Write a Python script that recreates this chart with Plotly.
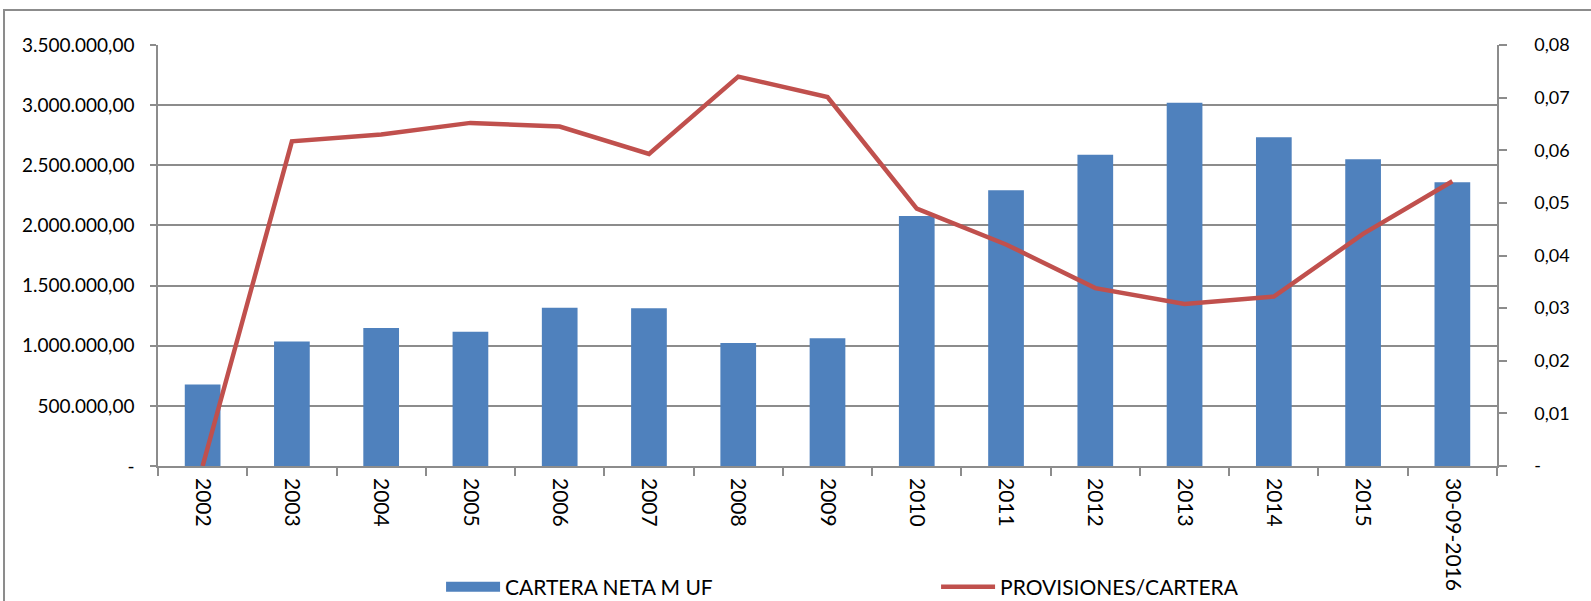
import plotly.graph_objects as go

categories = ["2002", "2003", "2004", "2005", "2006", "2007", "2008", "2009",
              "2010", "2011", "2012", "2013", "2014", "2015", "30-09-2016"]
cartera_neta = [677000, 1034000, 1147000, 1116000, 1316000, 1312000, 1023000, 1062000,
                2078000, 2293000, 2587000, 3020000, 2733000, 2550000, 2360000]
provisiones_cartera = [0.0, 0.0617, 0.0630, 0.0652, 0.0645, 0.0593, 0.0740, 0.0701,
                       0.0489, 0.0421, 0.0338, 0.0308, 0.0322, 0.0441, 0.0541]

left_tickvals = [0, 500000, 1000000, 1500000, 2000000, 2500000, 3000000, 3500000]
left_ticktext = ["-", "500.000,00", "1.000.000,00", "1.500.000,00", "2.000.000,00",
                 "2.500.000,00", "3.000.000,00", "3.500.000,00"]
right_tickvals = [0, 0.01, 0.02, 0.03, 0.04, 0.05, 0.06, 0.07, 0.08]
right_ticktext = ["-", "0,01", "0,02", "0,03", "0,04", "0,05", "0,06", "0,07", "0,08"]

FONT = "Lato"
GRID = "#8c8c8c"
BLUE = "#4F81BD"
RED = "#C0504D"

fig = go.Figure()
fig.add_trace(go.Bar(
    x=categories, y=cartera_neta, name="CARTERA NETA M UF",
    marker=dict(color=BLUE, line=dict(width=0)),
    yaxis="y", showlegend=False, legendgroup="cartera",
))
# legend entry for the bars, drawn as a wide swatch like the original
fig.add_trace(go.Scatter(
    x=[None], y=[None], name="CARTERA NETA M UF", mode="lines",
    line=dict(color=BLUE, width=12), legendgroup="cartera",
    hoverinfo="skip", yaxis="y",
))
fig.add_trace(go.Scatter(
    x=categories, y=provisiones_cartera, name="PROVISIONES/CARTERA",
    mode="lines", line=dict(color=RED, width=4.5),
    yaxis="y2",
))

fig.update_layout(
    width=1591, height=601,
    margin=dict(l=158, r=94, t=45, b=135),
    paper_bgcolor="white", plot_bgcolor="white",
    font=dict(family=FONT, size=18, color="black"),
    bargap=0.6,
    showlegend=True,
    legend=dict(orientation="h", x=0.2114, xanchor="left",
                yref="container", y=0.0233, yanchor="middle",
                entrywidth=426, entrywidthmode="pixels", itemwidth=54,
                font=dict(family=FONT, size=21, color="black"),
                bgcolor="rgba(0,0,0,0)", traceorder="normal"),
    xaxis=dict(
        type="category", range=[-0.5, 14.5],
        tickangle=90, tickson="boundaries", ticks="outside", ticklen=8,
        tickcolor=GRID, tickwidth=1.5,
        showline=True, linecolor=GRID, linewidth=1.5,
        showgrid=False, tickfont=dict(size=21), automargin=False,
        ticklabelstandoff=6,
    ),
    yaxis=dict(
        range=[0, 3500000], tickvals=left_tickvals, ticktext=left_ticktext,
        ticks="outside", ticklen=6, tickcolor=GRID, tickwidth=1.5,
        showline=True, linecolor=GRID, linewidth=1.5,
        showgrid=True, gridcolor=GRID, gridwidth=1.5,
        zeroline=False, tickfont=dict(size=19), automargin=False,
        ticklabelstandoff=12,
    ),
    yaxis2=dict(
        range=[0, 0.08], tickvals=right_tickvals, ticktext=right_ticktext,
        overlaying="y", side="right",
        ticks="outside", ticklen=8, tickcolor=GRID, tickwidth=1.5,
        showline=True, linecolor=GRID, linewidth=1.5,
        showgrid=False, zeroline=False, tickfont=dict(size=18),
        ticklabelstandoff=24, automargin=False,
    ),
)

fig.add_shape(type="rect", xref="paper", yref="paper",
              x0=-0.115, x1=1.2, y0=-0.5, y1=1.083,
              line=dict(color="#8c8c8c", width=2), fillcolor="rgba(0,0,0,0)",
              layer="below")

fig.write_html("out.html", config={"displayModeBar": False},
               post_script="document.body.style.margin='0px';")
